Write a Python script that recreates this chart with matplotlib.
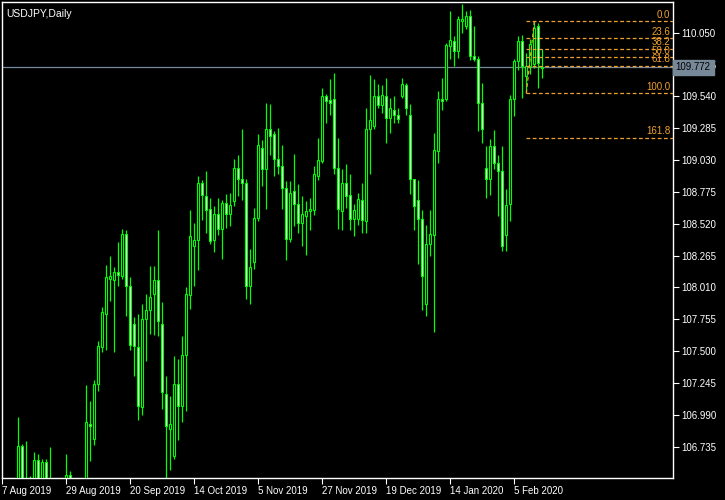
import pandas as pd
import matplotlib.pyplot as plt

# daily USDJPY bars, 7 Aug 2019 .. 14 Feb 2020
opens = [106.30, 106.10, 106.05, 105.60, 105.30, 106.74, 105.85, 106.10, 106.35, 106.63,
         106.25, 106.61, 106.42, 104.90, 105.75, 105.80, 105.90, 106.51, 106.25, 106.20,
         106.00, 106.40, 106.92, 106.80, 107.24, 107.53, 107.80, 108.08, 108.07, 108.13,
         108.10, 108.44, 108.02, 107.72, 107.53, 107.05, 107.76, 107.83, 107.96, 108.07,
         107.72, 107.16, 106.88, 106.66, 107.24, 107.06, 107.47, 107.95, 108.34, 108.39,
         108.85, 108.74, 108.64, 108.39, 108.60, 108.48, 108.69, 108.60, 108.70, 108.97,
         108.88, 108.85, 108.02, 108.21, 108.57, 109.13, 108.96, 109.28, 109.24, 109.04,
         108.98, 108.81, 108.40, 108.78, 108.68, 108.53, 108.58, 108.62, 108.63, 108.90,
         109.02, 109.54, 109.51, 109.52, 108.97, 108.62, 108.85, 108.75, 108.56, 108.56,
         108.71, 108.54, 109.28, 109.30, 109.54, 109.47, 109.54, 109.37, 109.43, 109.39,
         109.54, 109.63, 109.39, 108.88, 108.71, 108.56, 107.88, 108.36, 108.43, 109.10,
         109.52, 109.52, 109.94, 109.98, 109.90, 110.14, 110.10, 110.18, 109.86, 109.84,
         109.49, 108.97, 108.88, 109.14, 109.01, 108.94, 108.43, 108.68, 109.52, 109.82,
         109.98, 109.70, 109.78, 109.80, 110.10, 109.765]
highs = [106.42, 106.30, 106.20, 105.75, 106.97, 106.76, 106.78, 106.50, 106.69, 106.68,
         106.64, 106.64, 106.73, 106.10, 106.15, 106.20, 106.68, 106.54, 106.40, 106.40,
         106.45, 107.23, 107.10, 107.27, 107.58, 107.85, 108.19, 108.26, 108.17, 108.37,
         108.48, 108.47, 108.09, 107.77, 107.80, 107.88, 107.96, 108.18, 108.18, 108.47,
         107.89, 107.30, 107.14, 107.46, 107.44, 107.62, 108.01, 108.63, 108.53, 108.90,
         108.87, 108.94, 108.73, 108.66, 108.73, 108.71, 108.76, 108.77, 109.04, 109.07,
         109.28, 108.88, 108.32, 108.65, 109.24, 109.19, 109.49, 109.48, 109.26, 109.29,
         109.15, 108.86, 108.86, 109.08, 108.84, 108.74, 108.70, 108.73, 108.98, 109.21,
         109.61, 109.56, 109.68, 109.73, 109.21, 108.96, 109.00, 108.92, 108.68, 108.77,
         108.85, 109.45, 109.71, 109.68, 109.64, 109.63, 109.69, 109.53, 109.54, 109.45,
         109.69, 109.65, 109.48, 108.88, 108.87, 108.63, 108.51, 108.63, 109.25, 109.58,
         109.69, 109.97, 110.22, 110.02, 110.18, 110.28, 110.22, 110.23, 110.10, 109.86,
         109.65, 109.14, 109.20, 109.27, 109.07, 109.14, 108.80, 109.55, 109.84, 110.02,
         110.03, 109.89, 110.00, 110.14, 110.13, 109.92]
lows = [105.50, 105.85, 105.40, 105.05, 105.25, 105.60, 105.70, 105.95, 106.25, 106.10,
        106.15, 106.35, 105.10, 104.45, 105.55, 105.75, 105.85, 106.20, 106.15, 105.75,
        105.95, 106.30, 106.62, 106.75, 107.18, 107.49, 107.51, 107.90, 107.49, 108.02,
        108.08, 107.78, 107.51, 107.30, 106.95, 106.99, 107.42, 107.64, 107.63, 107.62,
        107.04, 106.48, 106.55, 106.64, 106.79, 106.93, 107.02, 107.84, 108.02, 108.15,
        108.55, 108.45, 108.36, 108.29, 108.43, 108.24, 108.49, 108.50, 108.66, 108.74,
        108.71, 107.92, 107.88, 108.16, 108.54, 108.82, 108.64, 109.07, 108.90, 108.92,
        108.64, 108.23, 108.37, 108.50, 108.45, 108.34, 108.27, 108.47, 108.59, 108.87,
        109.01, 109.33, 109.39, 108.92, 108.48, 108.47, 108.65, 108.47, 108.42, 108.51,
        108.45, 108.45, 108.92, 109.28, 109.45, 109.41, 109.17, 109.25, 109.33, 109.33,
        109.53, 109.39, 108.76, 108.47, 108.20, 107.83, 107.78, 108.26, 107.65, 109.01,
        109.43, 109.50, 109.84, 109.78, 109.85, 110.05, 110.08, 109.83, 109.82, 109.26,
        109.17, 108.73, 108.75, 108.96, 108.58, 108.30, 108.30, 108.54, 109.38, 109.75,
        109.53, 109.57, 109.72, 109.77, 109.61, 109.69]
closes = [106.10, 106.05, 105.70, 105.30, 106.74, 105.85, 106.10, 106.35, 106.63, 106.25,
          106.61, 106.42, 105.40, 105.75, 105.80, 105.90, 106.51, 106.27, 106.20, 106.00,
          106.40, 106.93, 106.90, 107.24, 107.54, 107.81, 108.09, 108.10, 108.13, 108.11,
          108.44, 108.02, 107.55, 107.54, 107.06, 107.76, 107.83, 107.93, 108.07, 107.74,
          107.17, 106.90, 106.92, 107.24, 107.06, 107.47, 107.96, 108.42, 108.39, 108.85,
          108.75, 108.63, 108.38, 108.60, 108.48, 108.69, 108.60, 108.67, 108.97, 108.88,
          108.85, 108.02, 108.17, 108.57, 109.15, 108.96, 109.28, 109.22, 109.04, 108.98,
          108.81, 108.40, 108.77, 108.68, 108.53, 108.60, 108.62, 108.64, 108.92, 109.03,
          109.54, 109.50, 109.49, 108.97, 108.64, 108.85, 108.74, 108.56, 108.63, 108.72,
          108.55, 109.28, 109.35, 109.54, 109.47, 109.55, 109.37, 109.45, 109.39, 109.36,
          109.64, 109.45, 108.88, 108.66, 108.56, 108.10, 108.36, 108.44, 109.11, 109.52,
          109.50, 109.95, 109.99, 109.90, 110.16, 110.16, 110.18, 109.86, 109.84, 109.49,
          109.28, 108.88, 109.14, 109.01, 108.94, 108.34, 108.67, 109.52, 109.82, 109.98,
          109.78, 109.78, 109.96, 110.09, 109.81, 109.772]

dates = pd.bdate_range('2019-08-07', '2020-02-14')
dates = dates[~dates.isin(pd.to_datetime(['2019-12-25', '2020-01-01']))]

price_ticks = [110.050, 109.795, 109.540, 109.285, 109.030, 108.775, 108.520,
               108.265, 108.010, 107.755, 107.500, 107.245, 106.990, 106.735]

fib_levels = [0.0, 23.6, 38.2, 50.0, 61.8, 100.0, 161.8]
fib_high = 110.142
fib_low = 109.566
fib_start = 131   # bar index of fib low
fib_end = 133     # bar index of fib high

GREEN = '#00ff00'
ORANGE = '#f0a030'
GREY = '#778899'
YLO, YHI = 106.484, 110.296

plt.rcParams['font.family'] = ['Liberation Sans', 'DejaVu Sans']

fig = plt.figure(figsize=(7.25, 5), dpi=100, facecolor='black')
ax = fig.add_axes([2 / 725, 22 / 500, 671 / 725, 476 / 500])
ax.set_facecolor('black')

n = len(closes)
xs = list(range(n))
ax.vlines(xs, lows, highs, color=GREEN, lw=0.9, zorder=2)
for i in xs:
    o, c = opens[i], closes[i]
    fill = 'white' if c < o else 'black'
    ax.bar(i, max(abs(c - o), 0.004), bottom=min(o, c), width=0.5,
           facecolor=fill, edgecolor=GREEN, lw=0.8, zorder=3)

# current price line
ax.axhline(closes[-1], color=GREY, lw=0.9, zorder=1)

# fibonacci retracement
rng = fib_high - fib_low
for lev in fib_levels:
    p = fib_high - rng * lev / 100
    ax.plot([fib_start, 168], [p, p], color=ORANGE, lw=0.9, ls=(0, (3, 2)), zorder=4)
    ax.text(167.0, p + 0.012, '%.1f' % lev, color=ORANGE, fontsize=7,
            ha='right', va='bottom', zorder=5)
ax.plot([fib_start, fib_end], [fib_low, fib_high], color=ORANGE, lw=0.9,
        ls=(0, (3, 2)), zorder=4)

ax.set_xlim(-0.08, 167.67)
ax.set_ylim(YLO, YHI)

for s in ax.spines.values():
    s.set_color('white')
    s.set_linewidth(1)

ax.yaxis.tick_right()
ax.set_yticks(price_ticks)
ax.set_yticklabels(['%.3f' % t for t in price_ticks])
ax.tick_params(axis='y', colors='white', labelsize=7, length=4, pad=2)

tick_idx = list(range(0, n, 16))
ax.set_xticks(tick_idx)
ax.set_xticklabels([f'{dates[i].day} {dates[i]:%b %Y}' for i in tick_idx])
ax.tick_params(axis='x', colors='white', labelsize=7, length=4, pad=2)
for lab in ax.get_xticklabels():
    lab.set_ha('left')

# price box on the axis, covering the tick label underneath
ax.text(1.004, (closes[-1] - YLO) / (YHI - YLO), '%.3f' % closes[-1],
        transform=ax.transAxes, color='black', fontsize=7, va='center', ha='left',
        bbox=dict(boxstyle='square,pad=0.3', fc=GREY, ec=GREY), clip_on=False, zorder=6)

ax.text(0.006, 0.985, 'USDJPY,Daily', transform=ax.transAxes, color='white',
        fontsize=7.5, va='top', ha='left')

fig.savefig('out.png', dpi=100, facecolor='black')
